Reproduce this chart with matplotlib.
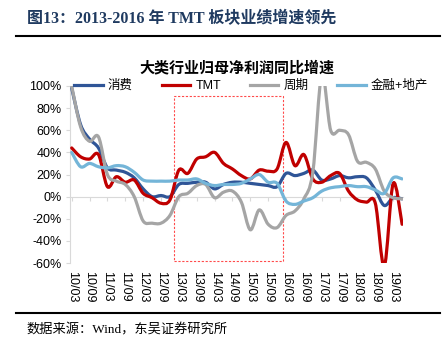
"""
大类行业归母净利润同比增速 - 季度数据, 平滑折线
"""
import numpy as np
import matplotlib
matplotlib.use('Agg')
import matplotlib.pyplot as plt
from matplotlib.path import Path
from matplotlib.patches import PathPatch, Rectangle
from matplotlib.lines import Line2D

plt.rcParams['font.family'] = ['Liberation Sans', 'Noto Sans CJK SC']

# 季度 (10/03 ... 19/06)
quarters = ['10/03', '10/06', '10/09', '10/12', '11/03', '11/06', '11/09', '11/12',
            '12/03', '12/06', '12/09', '12/12', '13/03', '13/06', '13/09', '13/12',
            '14/03', '14/06', '14/09', '14/12', '15/03', '15/06', '15/09', '15/12',
            '16/03', '16/06', '16/09', '16/12', '17/03', '17/06', '17/09', '17/12',
            '18/03', '18/06', '18/09', '18/12', '19/03', '19/06']

# 同比增速 (%)
consumer = [98, 65, 52, 44, 26, 24, 22, 17, 7, 0, 1, 0, 11, 12, 13, 13, 7, 11, 13,
            13, 12, 11, 10, 9, 21, 19, 21, 24, 15, 16, 19, 17, 18, 17, 6, -8, -1, -2]
tmt = [44, 36, 34, 38, 9, 18, 13, 15, 3, -1, -6, -3, 24, 21, 34, 36, 40, 30, 25,
       19, 16, 24, 23, 25, 49, 28, 38, 16, 13, 19, 21, 5, -3, -5, -6, -63, 12, -25]
cyclical = [100, 63, 50, 54, 20, 14, 11, 0, -22, -24, -24, -17, 0, 3, 10, 11, -1, 4, 5,
            -5, -30, -12, -25, -28, -17, -13, -2, 22, 110, 60, 60, 56, 32, 31, 25, 5, -1, -2]
fin_estate = [40, 27, 30, 27, 26, 28, 27, 22, 15, 14, 14, 14, 15, 15, 16, 12, 10, 11, 11,
              12, 16, 20, 13, 12, -4, -7, -4, -1, 5, 8, 9, 10, 9, 9, 6, 3, 17, 16]

series = [('消费', consumer, '#2F5597'),
          ('TMT', tmt, '#C00000'),
          ('周期', cyclical, '#A5A5A5'),
          ('金融+地产', fin_estate, '#74B5D8')]

yticks = [-60, -40, -20, 0, 20, 40, 60, 80, 100]

# 2013-2016 高亮框 (季度序号, %)
box_x = (11.5, 23.7)
box_y = (-58.5, 91)


def smooth_path(xs, ys):
    # Excel 风格的平滑线 (Catmull-Rom -> Bezier)
    pts = np.column_stack([xs, ys]).astype(float)
    n = len(pts)
    verts = [pts[0]]
    codes = [Path.MOVETO]
    for i in range(n - 1):
        p0 = pts[max(i - 1, 0)]
        p1 = pts[i]
        p2 = pts[i + 1]
        p3 = pts[min(i + 2, n - 1)]
        verts += [p1 + (p2 - p0) / 6, p2 - (p3 - p1) / 6, p2]
        codes += [Path.CURVE4] * 3
    return Path(verts, codes)


W, H = 443, 355
fig = plt.figure(figsize=(W / 100, H / 100), dpi=100)
ax = fig.add_axes([70 / W, 1 - 263 / H, (403 - 70) / W, (263 - 86) / H])

x = np.arange(len(quarters))
for name, vals, col in series:
    ax.add_patch(PathPatch(smooth_path(x, vals), fill=False, edgecolor=col,
                           lw=2.3, capstyle='round', joinstyle='round', zorder=3))

ax.add_patch(Rectangle((box_x[0], box_y[0]), box_x[1] - box_x[0], box_y[1] - box_y[0],
                       fill=False, edgecolor='#FF4B4B', lw=0.8, ls=(0, (2, 1.5)), zorder=2))

ax.set_xlim(-0.19, 37.1)
ax.set_ylim(-60, 100)
ax.set_yticks(yticks)
ax.set_yticklabels([f'{v}%' for v in yticks], fontsize=9)
ax.tick_params(axis='y', length=3, color='#D9D9D9', pad=3)

ax.set_xticks(x[::2])
ax.set_xticklabels(quarters[::2], rotation=-90, fontsize=9)
ax.tick_params(axis='x', length=0, pad=6)

for s in ['top', 'right', 'bottom']:
    ax.spines[s].set_visible(False)
ax.spines['left'].set_color('#D9D9D9')

# 0% 轴线及刻度
sec = ax.secondary_xaxis(60 / 160)
sec.set_xticks(x[::2])
sec.set_xticklabels([])
sec.tick_params(length=3, color='#D9D9D9', direction='out')
sec.spines['bottom'].set_color('#D9D9D9')

handles = [Line2D([], [], color=c, lw=2.3) for _, _, c in series]
fig.legend(handles, [n for n, _, _ in series], loc='center left',
           bbox_to_anchor=(74 / W, 1 - 86 / H), ncol=4, frameon=False,
           fontsize=9, handlelength=2.3, handletextpad=0.4, columnspacing=2.3,
           borderpad=0, borderaxespad=0)

fig.text(237 / W, 1 - 67 / H, '大类行业归母净利润同比增速', ha='center', va='center',
         fontsize=10.8, fontweight='bold', family=['Noto Sans CJK SC'])
fig.text(27 / W, 1 - 19 / H, '图13：2013-2016 年 TMT 板块业绩增速领先', ha='left', va='center',
         fontsize=11.5, fontweight='bold', color='#1F3A60',
         family=['Liberation Serif', 'Noto Sans CJK SC'])
fig.text(26 / W, 1 - 330 / H, '数据来源：Wind，东吴证券研究所', ha='left', va='center',
         fontsize=9.5, family=['Liberation Serif', 'Noto Sans CJK SC'])

fig.add_artist(Line2D([16 / W, 440 / W], [1 - 36 / H] * 2, color='black', lw=1.5))
fig.add_artist(Line2D([16 / W, 440 / W], [1 - 313 / H] * 2, color='black', lw=1.5))

fig.savefig('out.png', dpi=100)
